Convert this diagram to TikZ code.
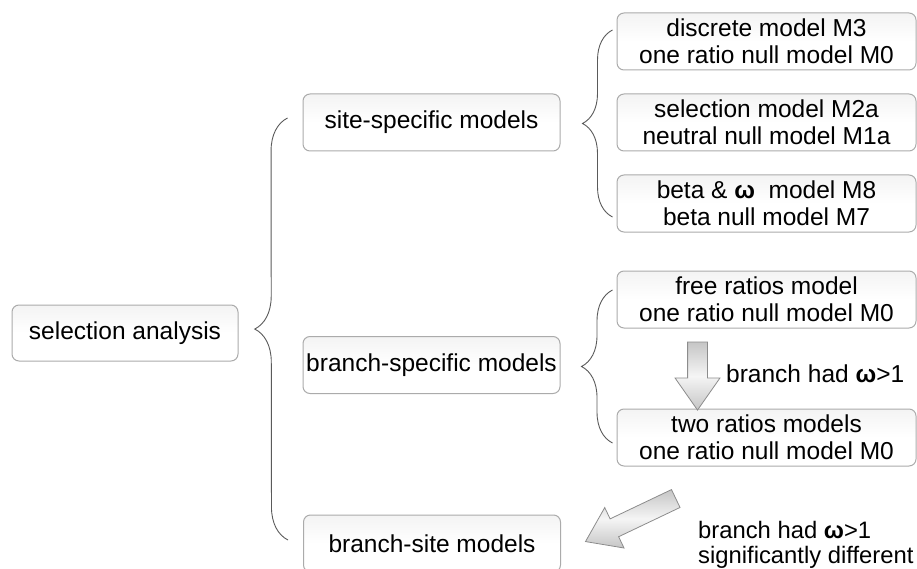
\documentclass[tikz,border=0pt]{standalone}
\usepackage{fontspec}
\setmainfont{Liberation Sans}
\usetikzlibrary{decorations.pathreplacing,shapes.arrows}
\definecolor{boxline}{HTML}{ABABAB}
\definecolor{bracegry}{HTML}{5A5A5A}
\definecolor{arrline}{HTML}{8C8C8C}

\tikzset{
	mbox/.style={draw=boxline, line width=1pt, rounded corners=7pt, top color=gray!9, bottom color=white, middle color=white, align=center, inner sep=0pt},
	mid/.style={mbox, minimum width=257pt, minimum height=57pt},
	wide/.style={mbox, minimum width=299pt, minimum height=57pt},
	brc/.style={decorate, decoration={brace, amplitude=#1}, draw=bracegry, line width=0.9pt},
	fat/.style={single arrow, draw=arrline, line width=0.8pt, top color=gray!45, bottom color=gray!45, middle color=gray!8, inner xsep=0pt, inner ysep=9.5pt, single arrow head extend=12.5pt, single arrow tip angle=70}
}

\begin{document}
\begin{tikzpicture}[x=1pt, y=-1pt, every node/.style={font=\fontsize{24.5}{27}\selectfont}]

	\useasboundingbox (0,0) rectangle (917,569);

	\node[mbox, minimum width=226pt, minimum height=56pt] (sel) at (125,333) {selection analysis};
	\node[mid] (site) at (431.5,122.5) {site-specific models};
	\node[mid] (bspec) at (431.5,365) {branch-specific models};
	\node[mid] (bsite) at (432,543.5) {branch-site models};

	\node[wide] (m3) at (766.5,41.5) {discrete model M3\\one ratio null model M0};
	\node[wide] (m2a) at (766.5,122.5) {selection model M2a\\neutral null model M1a};
	\node[wide] (m8) at (766.5,203.5) {beta \& \textbf{ω}\ \ model M8\\beta null model M7};
	\node[wide] (free) at (766.5,299.5) {free ratios model\\one ratio null model M0};
	\node[wide] (two) at (766.5,437.5) {two ratios models\\one ratio null model M0};

	% braces
	\draw[brc=33pt] ([shift={(-15,-3.5)}]bsite.west) -- ([shift={(-15,-4.5)}]site.west);
	\draw[brc=30pt] ([shift={(-4,13.5)}]m8.west) -- ([shift={(-4,-11.5)}]m3.west);
	\draw[brc=31pt] ([shift={(-4,5.5)}]two.west) -- ([shift={(-4,-9.5)}]free.west);

	% block arrows
	\node[fat, rotate=-90, minimum height=68pt] (down) at (697.5,369) {};
	\node[fat, rotate=205.5, minimum height=100pt] (diag) at (637,517) {};

	\node[anchor=base west, inner sep=0pt] (lbl1) at (726,382) {branch had \textbf{ω}>1};
	\node[anchor=west, inner sep=0pt, align=left, font=\fontsize{23.8}{25}\selectfont] (lbl2) at (698,545) {branch had \textbf{ω}>1\\significantly different};
\end{tikzpicture}
\end{document}
